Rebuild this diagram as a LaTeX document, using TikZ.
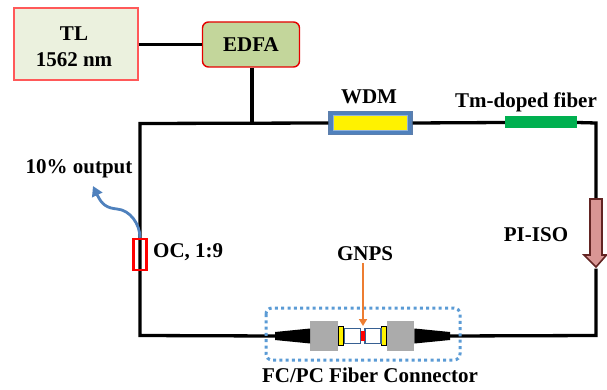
\documentclass[tikz,border=0pt]{standalone}
\usepackage{fontspec}
\setmainfont{Liberation Serif}
\usetikzlibrary{arrows.meta,shapes.arrows,calc}
\definecolor{tlfill}{HTML}{EBF1DE}
\definecolor{edfafill}{HTML}{C3D69B}
\definecolor{wdmblue}{HTML}{4F81BD}
\definecolor{wdmedge}{HTML}{5B7FAE}
\definecolor{isofill}{HTML}{D99694}
\definecolor{isoedge}{HTML}{632523}
\definecolor{lineblue}{HTML}{376092}
\definecolor{dotblue}{HTML}{5B9BD5}
\definecolor{orangeline}{HTML}{ED7D31}
\definecolor{fibgreen}{HTML}{00B050}
\tikzset{
 lbl/.style={font=\bfseries\fontsize{21}{25}\selectfont,inner sep=0pt,align=center,text=black},
 fiber/.style={draw=black,line width=3.3pt},
 grayblock/.style={fill=black!33,draw=none,inner sep=0pt,minimum width=27.5pt,minimum height=30pt},
 yellowblock/.style={fill=yellow,draw=black,line width=1.5pt,inner sep=0pt,minimum width=5pt,minimum height=19pt},
 sleeve/.style={fill=white,draw=lineblue,line width=1.4pt,inner sep=0pt,minimum width=16pt,minimum height=15pt},
}
\begin{document}
\begin{tikzpicture}[x=1pt,y=-1pt]
\useasboundingbox (0,0) rectangle (607,390);
% corners
\coordinate (tl) at (140,123.5);
\coordinate (tr) at (596,123);
\coordinate (bl) at (140,335.5);
\coordinate (br) at (596,335.5);
\coordinate (tap) at (252,123.5);
% boxes
\node[draw=red!65,fill=tlfill,line width=1.2pt,minimum width=124pt,minimum height=72pt,inner sep=0pt] (tlbox) at (76,44) {};
\node[lbl] (tltext) at (74,47) {TL\\[1pt]1562 nm};
\node[draw=red!90!black,fill=edfafill,line width=1.4pt,rounded corners=6pt,minimum width=97pt,minimum height=45pt,inner sep=0pt,lbl] (edfa) at (251,44.5) {EDFA};
\node[fill=wdmblue,draw=wdmedge,line width=1.2pt,minimum width=83pt,minimum height=23pt,inner sep=0pt] (wdm) at (370.5,123) {};
\node[fill=yellow,draw=wdmblue!60,line width=.6pt,inner sep=0pt,minimum width=74pt,minimum height=15pt] (wdmin) at (370.5,123) {};
\node[fill=fibgreen,inner sep=0pt,minimum width=72pt,minimum height=12pt] (tm) at (541,122.5) {};
% connector parts
\node[grayblock] (gl) at (324,336) {};
\node[grayblock] (gr) at (400.5,336) {};
\node[yellowblock] (yl) at (341,336) {};
\node[yellowblock] (yr) at (384,336) {};
\node[sleeve] (sl) at (352.5,336) {};
\node[sleeve] (sr) at (373,336) {};
\node[fill=red,inner sep=0pt,minimum width=4pt,minimum height=10pt] (gn) at (363,336) {};
\coordinate (tapl) at (275,336);
\coordinate (tapr) at (450,336);
% fibers
\draw[fiber] (tlbox.east |- edfa.west) -- (edfa.west);
\draw[fiber] (edfa.south -| tap) -- (tap);
\draw[fiber,line join=miter] (wdm.west) -- (tl) -- (bl) -- (tapl);
\draw[fiber] (wdm.east) -- (tm.west);
\node[minimum width=0pt,inner sep=0pt] (isotop) at (596,199) {};
\node[minimum width=0pt,inner sep=0pt] (isotip) at (596,268) {};
\draw[fiber,line join=miter] (tm.east) -- (tr) -- (isotop);
\draw[fiber,line join=miter] (isotip) -- (br) -- (tapr);
% tapers
\fill[black] (275,332) -- (gl.west |- 0,328.5) -- (gl.west |- 0,343.5) -- (275,340) -- cycle;
\fill[black] (450,332) -- (gr.east |- 0,328.5) -- (gr.east |- 0,343.5) -- (450,340) -- cycle;
% isolator
\draw[fill=isofill,draw=isoedge,line width=1.6pt,line join=miter] (590,199) -- (602,199) -- (602,255) -- (606.5,255) -- (596,267) -- (584,255) -- (590,255) -- cycle;
% OC
\node[draw=red,line width=2.4pt,minimum width=13pt,minimum height=31pt,inner sep=0pt] (oc) at (140,254.5) {};
% output
\coordinate (outtip) at (93,186);
\draw[-{Triangle[length=10pt,width=11pt]},draw=wdmblue,line width=2.8pt] (oc.north) .. controls (140,224) and (130,210) .. (117,209) .. controls (107,208) and (102,205) .. (outtip);
% dotted box
\draw[dotblue,line width=3pt,dash pattern=on 3pt off 3.3pt,rounded corners=6pt] (266,308) rectangle (460,360);
% labels
\node[lbl] (wdmt) at (369,97) {WDM};
\node[lbl] (tmt) at (526,102.5) {Tm-doped fiber};
\node[lbl] (isot) at (536,235) {PI-ISO};
\node[lbl] (gnps) at (365,254) {GNPS};
\node[lbl] (fc) at (370,375) {FC/PC Fiber Connector};
\node[lbl] (oct) at (153,252) [anchor=west] {OC, 1:9};
\node[lbl] (outt) at (79,169) {10\% output};
\draw[-{Triangle[length=7pt,width=8pt]},draw=orangeline,line width=2pt] (gnps.south -| gn) ++(0,2) -- (gn.north |- 0,326);
\end{tikzpicture}
\end{document}
